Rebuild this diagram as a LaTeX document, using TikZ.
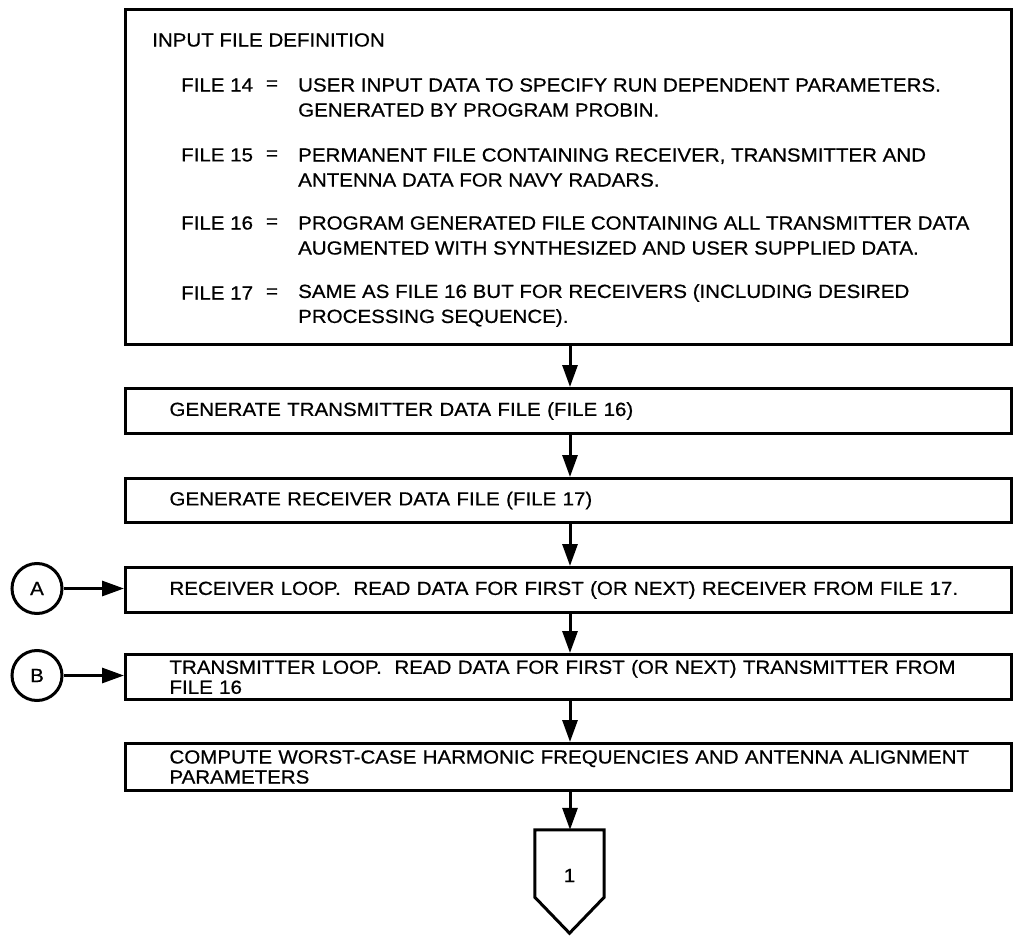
\documentclass[tikz,border=0pt]{standalone}
\usepackage{fontspec}
\setmainfont{Liberation Sans}[FakeStretch=1.08,FakeBold=0.6]
\usetikzlibrary{arrows.meta}
\begin{document}
\begin{tikzpicture}[x=1pt,y=-1pt,
  every node/.style={font=\fontsize{19}{20}\selectfont},
  ln/.style={line width=3pt},
  stepbox/.style={draw, line width=3pt, anchor=north west, minimum width=886pt,
    inner xsep=44pt, inner ysep=0pt, text width=798pt, align=left},
  arr/.style={line width=3pt, -{Triangle[length=22pt,width=15pt]}},
  txt/.style={inner sep=0pt, anchor=west, align=left},
  desc/.style={txt, font=\fontsize{19}{25}\selectfont},
  conncirc/.style={draw, circle, line width=3pt, minimum size=50pt, inner sep=0pt}
]
\useasboundingbox (0,0) rectangle (1014,941);
\coordinate (col) at (570,0);

% input file definition block
\node[draw, ln, anchor=north west, minimum width=886pt, minimum height=335pt, inner sep=0pt] (main) at (124,8) {};
\node[txt] (title) at (152,40) {INPUT FILE DEFINITION};

\node[txt] (f14) at (181,85) {FILE 14};
\node[inner sep=0pt] (e14) at (272,85) {=};
\node[desc] (d14) at (298,97.5) {USER INPUT DATA TO SPECIFY RUN DEPENDENT PARAMETERS.\\GENERATED BY PROGRAM PROBIN.};

\node[txt] (f15) at (181,155) {FILE 15};
\node[inner sep=0pt] (e15) at (272,155) {=};
\node[desc] (d15) at (298,167.5) {PERMANENT FILE CONTAINING RECEIVER, TRANSMITTER AND\\ANTENNA DATA FOR NAVY RADARS.};

\node[txt] (f16) at (181,223) {FILE 16};
\node[inner sep=0pt] (e16) at (272,223) {=};
\node[desc] (d16) at (298,235.5) {PROGRAM GENERATED FILE CONTAINING ALL TRANSMITTER DATA\\AUGMENTED WITH SYNTHESIZED AND USER SUPPLIED DATA.};

\node[txt] (f17) at (181,293) {FILE 17};
\node[inner sep=0pt] (e17) at (272,293) {=};
\node[desc] (d17) at (298,305.5) {SAME AS FILE 16 BUT FOR RECEIVERS (INCLUDING DESIRED\\PROCESSING SEQUENCE).};

% processing steps
\node[stepbox, minimum height=45pt] (r1) at (124,387) {GENERATE TRANSMITTER DATA FILE (FILE 16)};
\node[stepbox, minimum height=44pt] (r2) at (124,477) {GENERATE RECEIVER DATA FILE (FILE 17)};
\node[stepbox, minimum height=45pt] (r3) at (124,566) {\mbox{RECEIVER LOOP.\ \ READ DATA FOR FIRST (OR NEXT) RECEIVER FROM FILE 17.}};
\node[stepbox, minimum height=45pt] (r4) at (124,653) {\mbox{TRANSMITTER LOOP.\ \ READ DATA FOR FIRST (OR NEXT) TRANSMITTER FROM}\\FILE 16};
\node[stepbox, minimum height=47pt] (r5) at (124,742) {\mbox{COMPUTE WORST-CASE HARMONIC FREQUENCIES AND ANTENNA ALIGNMENT}\\PARAMETERS};

% loop entry connectors
\node[conncirc] (A) at (37,588.5) {A};
\node[conncirc] (B) at (37,675.5) {B};

% off-page connector
\node[minimum width=69pt, minimum height=103pt, inner sep=0pt, text depth=12pt] (conn) at (569.5,881.5) {1};
\draw[ln, line join=miter] (conn.north west) -- (conn.north east) -- ([yshift=36pt]conn.south east)
  -- (conn.south) -- ([yshift=36pt]conn.south west) -- cycle;

% flow
\draw[arr] (main.south -| col) -- (r1.north -| col);
\draw[arr] (r1.south -| col) -- (r2.north -| col);
\draw[arr] (r2.south -| col) -- (r3.north -| col);
\draw[arr] (r3.south -| col) -- (r4.north -| col);
\draw[arr] (r4.south -| col) -- (r5.north -| col);
\draw[arr] (r5.south -| col) -- (conn.north -| col);
\draw[arr] (A) -- (A -| r3.west);
\draw[arr] (B) -- (B -| r4.west);
\end{tikzpicture}
\end{document}
